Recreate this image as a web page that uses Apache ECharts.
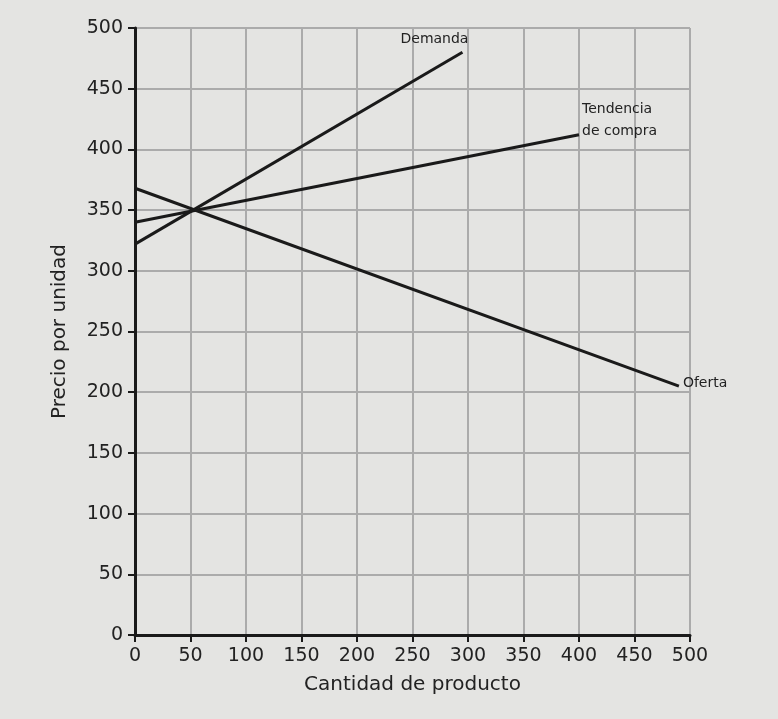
<!DOCTYPE html>
<html><head><meta charset="utf-8">
<script src="https://cdn.jsdelivr.net/npm/echarts@6/dist/echarts.min.js"></script>
<style>html,body{margin:0;padding:0;background:#e4e4e2}#c{width:778px;height:719px}</style>
</head><body><div id="c"></div>
<script>
const xTicks = [0,50,100,150,200,250,300,350,400,450,500];
const yTicks = [0,50,100,150,200,250,300,350,400,450,500];
const demanda = [[0,322],[295,480]];
const tendencia = [[0,340],[400,412]];
const oferta = [[0,368],[490,205]];
const names = ['Demanda','Tendencia\nde compra','Oferta'];

const chart = echarts.init(document.getElementById('c'));
const font = 'DejaVu Sans';
function line(name, data, lbl){
  return {type:'line', name:name, data:data, symbol:'none', silent:true,
    lineStyle:{color:'#1a1a1a', width:3},
    endLabel:Object.assign({show:true, formatter:name, color:'#222', fontFamily:font, fontSize:14, lineHeight:22}, lbl)};
}
chart.setOption({
  backgroundColor:'#e4e4e2',
  animation:false,
  grid:{left:135, right:88, top:28, bottom:84},
  xAxis:{type:'value', min:0, max:500, interval:50,
    name:'Cantidad de producto', nameLocation:'middle', nameGap:40,
    nameTextStyle:{fontFamily:font, fontSize:20, color:'#222'},
    axisLine:{lineStyle:{color:'#1a1a1a', width:3}},
    axisTick:{show:true, length:7, lineStyle:{color:'#1a1a1a', width:2}},
    axisLabel:{fontFamily:font, fontSize:19, color:'#222', margin:12},
    splitLine:{lineStyle:{color:'#ababab', width:2}}},
  yAxis:{type:'value', min:0, max:500, interval:50,
    name:'Precio por unidad', nameLocation:'middle', nameGap:65, nameRotate:90,
    nameTextStyle:{fontFamily:font, fontSize:20, color:'#222'},
    axisLine:{show:true, lineStyle:{color:'#1a1a1a', width:3}},
    axisTick:{show:true, length:7, lineStyle:{color:'#1a1a1a', width:2}},
    axisLabel:{fontFamily:font, fontSize:19, color:'#222', margin:12},
    splitLine:{lineStyle:{color:'#ababab', width:2}}},
  series:[
    line(names[0], demanda, {align:'right', verticalAlign:'bottom', offset:[-2,-2]}),
    line(names[1], tendencia, {align:'left', verticalAlign:'bottom', offset:[-5,8]}),
    line(names[2], oferta, {align:'left', verticalAlign:'middle', offset:[-4,-3]})
  ]
});
</script></body></html>
